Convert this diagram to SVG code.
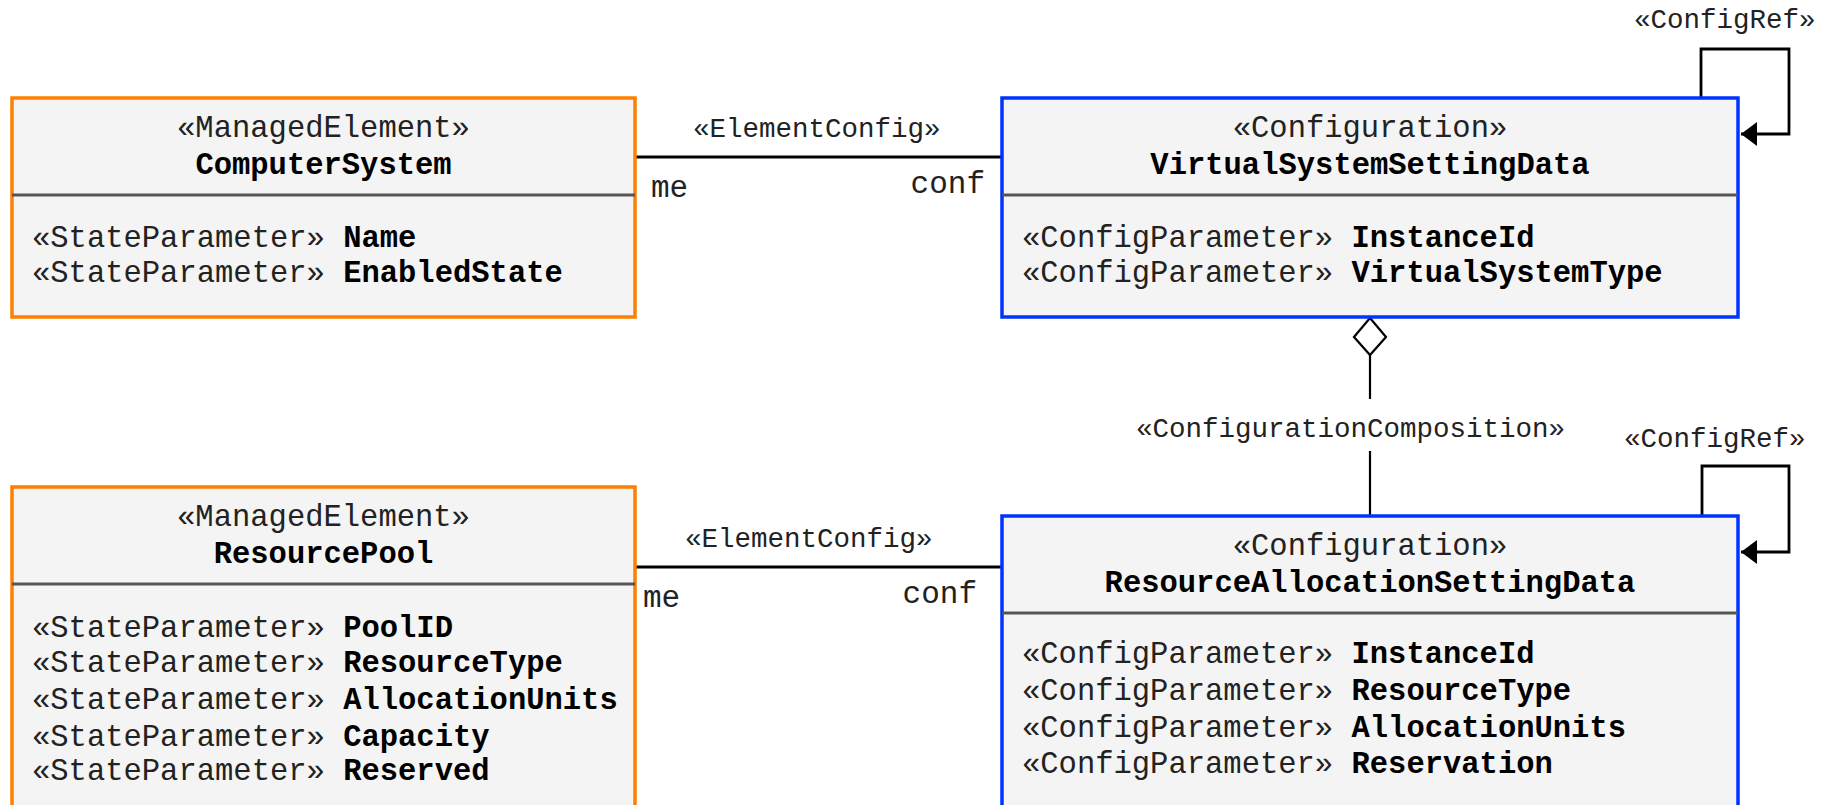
<svg xmlns="http://www.w3.org/2000/svg" width="1829" height="805" viewBox="0 0 1829 805">
<style>
  .box { fill: #f4f4f4; stroke-width: 3.5; }
  .me { stroke: #ff7f00; }
  .cfg { stroke: #0033ff; }
  .div { stroke: #555555; stroke-width: 3; }
  text { font-family: "Liberation Mono", "Courier New", monospace; fill: #222222; }
  .t { font-size: 30.5px; }
  .c { text-anchor: middle; }
  .b { font-weight: bold; fill: #000000; }
  .lbl { font-size: 27.5px; }
  .role { font-size: 31px; }
  .conn { stroke: #000000; stroke-width: 2.8; fill: none; }
  .thin { stroke: #000000; stroke-width: 2.2; fill: none; }
</style>
<defs>
  <marker id="arr" markerWidth="16" markerHeight="24" refX="16" refY="12" orient="auto" markerUnits="userSpaceOnUse">
    <path d="M0,0 L16,12 L0,24 Z" fill="#000000"/>
  </marker>
</defs>
<rect width="1829" height="805" fill="#ffffff"/>

<g id="connectors">
  <line class="conn" x1="635" y1="157" x2="1002" y2="157"/>
  <text class="lbl" x="693" y="137">«ElementConfig»</text>
  <text class="role" x="651" y="197">me</text>
  <text class="role" x="985" y="193" text-anchor="end">conf</text>

  <line class="conn" x1="635" y1="567" x2="1002" y2="567"/>
  <text class="lbl" x="685" y="547">«ElementConfig»</text>
  <text class="role" x="643" y="607">me</text>
  <text class="role" x="977" y="603" text-anchor="end">conf</text>

  <polyline class="conn" points="1701,98 1701,49 1789,49 1789,134 1741,134" marker-end="url(#arr)"/>
  <text class="lbl" x="1634" y="28">«ConfigRef»</text>

  <polyline class="conn" points="1702,516 1702,466 1789,466 1789,552 1741,552" marker-end="url(#arr)"/>
  <text class="lbl" x="1624" y="447">«ConfigRef»</text>

  <path class="thin" d="M1370,318 L1386,337 L1370,355 L1354,337 Z" fill="#ffffff"/>
  <line class="thin" x1="1370" y1="355" x2="1370" y2="399"/>
  <line class="thin" x1="1370" y1="451" x2="1370" y2="516"/>
  <text class="lbl" x="1136" y="437">«ConfigurationComposition»</text>
</g>

<g id="ComputerSystem">
  <rect class="box me" x="12" y="98" width="623" height="219"/>
  <line class="div" x1="12" y1="195" x2="635" y2="195"/>
  <text class="t c" x="323.5" y="137">«ManagedElement»</text>
  <text class="t c b" x="323.5" y="174">ComputerSystem</text>
  <text class="t" x="32" y="247">«StateParameter» <tspan class="b">Name</tspan></text>
  <text class="t" x="32" y="282">«StateParameter» <tspan class="b">EnabledState</tspan></text>
</g>

<g id="VirtualSystemSettingData">
  <rect class="box cfg" x="1002" y="98" width="736" height="219"/>
  <line class="div" x1="1002" y1="195" x2="1738" y2="195"/>
  <text class="t c" x="1370" y="137">«Configuration»</text>
  <text class="t c b" x="1370" y="174">VirtualSystemSettingData</text>
  <text class="t" x="1022" y="247">«ConfigParameter» <tspan class="b">InstanceId</tspan></text>
  <text class="t" x="1022" y="282">«ConfigParameter» <tspan class="b">VirtualSystemType</tspan></text>
</g>

<g id="ResourcePool">
  <rect class="box me" x="12" y="487" width="623" height="340"/>
  <line class="div" x1="12" y1="584" x2="635" y2="584"/>
  <text class="t c" x="323.5" y="526">«ManagedElement»</text>
  <text class="t c b" x="323.5" y="563">ResourcePool</text>
  <text class="t" x="32" y="637">«StateParameter» <tspan class="b">PoolID</tspan></text>
  <text class="t" x="32" y="672">«StateParameter» <tspan class="b">ResourceType</tspan></text>
  <text class="t" x="32" y="709">«StateParameter» <tspan class="b">AllocationUnits</tspan></text>
  <text class="t" x="32" y="746">«StateParameter» <tspan class="b">Capacity</tspan></text>
  <text class="t" x="32" y="780">«StateParameter» <tspan class="b">Reserved</tspan></text>
</g>

<g id="ResourceAllocationSettingData">
  <rect class="box cfg" x="1002" y="516" width="736" height="310"/>
  <line class="div" x1="1002" y1="613" x2="1738" y2="613"/>
  <text class="t c" x="1370" y="555">«Configuration»</text>
  <text class="t c b" x="1370" y="592">ResourceAllocationSettingData</text>
  <text class="t" x="1022" y="663">«ConfigParameter» <tspan class="b">InstanceId</tspan></text>
  <text class="t" x="1022" y="700">«ConfigParameter» <tspan class="b">ResourceType</tspan></text>
  <text class="t" x="1022" y="737">«ConfigParameter» <tspan class="b">AllocationUnits</tspan></text>
  <text class="t" x="1022" y="773">«ConfigParameter» <tspan class="b">Reservation</tspan></text>
</g>
</svg>
